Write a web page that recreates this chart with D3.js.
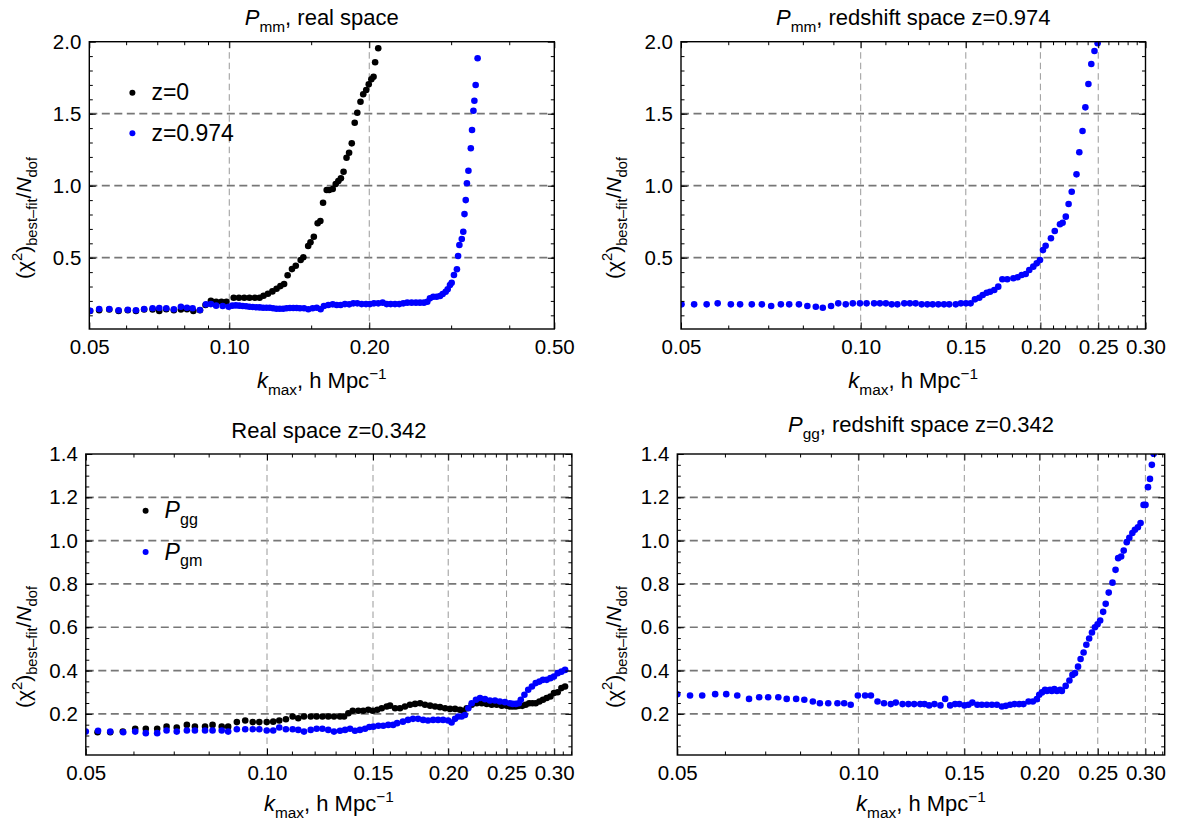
<!DOCTYPE html>
<html>
<head>
<meta charset="utf-8">
<script src="https://cdn.jsdelivr.net/npm/d3@7"></script>
<style>
  body { margin: 0; background: #fff; }
  text { font-family: "Liberation Sans", Arial, sans-serif; fill: #000; }
</style>
</head>
<body>
<svg id="chart" width="1177" height="823"></svg>
<script>
// ---- data ----
// top-left: P_mm real space, z=0 (black) and z=0.974 (blue)
const p1ZeroK = [0.0502,0.0525,0.0552,0.0578,0.0605,0.063,0.0656,0.0684,0.0707,0.0732,0.076,0.0787,0.0811,0.0837,0.0865,0.0889,
  0.0913,0.0937,0.0962,0.0986,0.1022,0.1049,0.1077,0.1105,0.1135,0.1162,0.1185,0.1211,0.1238,0.1264,0.1288,0.1312,0.1335,
  0.1364,0.139,0.1424,0.1443,0.1478,0.1495,0.152,0.1549,0.157,0.1591,0.162,0.164,0.1669,0.1694,0.1716,0.1738,0.1761,0.1787,
  0.181,0.1834,0.1861,0.1885,0.1915,0.1941,0.197,0.1995,0.2021,0.2043,0.2059,0.2091];
const p1ZeroChi = [0.13,0.135,0.14,0.13,0.135,0.13,0.14,0.14,0.13,0.142,0.135,0.14,0.142,0.13,0.135,0.172,
  0.2,0.194,0.194,0.194,0.222,0.222,0.222,0.222,0.222,0.222,0.236,0.25,0.266,0.284,0.303,0.317,0.378,
  0.421,0.444,0.484,0.503,0.581,0.607,0.646,0.739,0.755,0.882,0.97,0.97,0.977,1.012,1.032,1.051,1.097,1.194,
  1.229,1.294,1.437,1.507,1.583,1.635,1.665,1.704,1.739,1.757,1.857,1.954];
const p1HighK = [0.0502,0.0525,0.0552,0.0578,0.0605,0.063,0.0656,0.0684,0.0707,0.0732,0.076,0.0787,0.0811,0.0834,0.0865,0.0891,
  0.0913,0.0937,0.0968,0.0997,0.1015,0.1033,0.1051,0.1069,0.1087,0.1105,0.1124,0.1143,0.1162,0.1182,0.1202,0.1222,0.1242,
  0.1263,0.1284,0.1306,0.1328,0.135,0.1373,0.1396,0.1419,0.1448,0.1479,0.1511,0.1542,0.1572,0.1598,0.1633,0.1669,0.1702,
  0.1736,0.1773,0.1811,0.1848,0.1885,0.1926,0.1968,0.2007,0.2047,0.2091,0.2137,0.218,0.2224,0.2272,0.232,0.2367,0.2414,
  0.2467,0.252,0.2571,0.2622,0.2666,0.2701,0.2746,0.2792,0.2839,0.2877,0.292,0.2949,0.2983,0.3008,0.3042,0.3087,0.3105,
  0.3125,0.3162,0.3186,0.3205,0.3225,0.3244,0.3268,0.3307,0.3327,0.335,0.3366,0.3387,0.342];
const p1HighChi = [0.132,0.144,0.144,0.135,0.139,0.135,0.144,0.149,0.151,0.149,0.142,0.16,0.153,0.149,0.137,0.176,
  0.178,0.167,0.165,0.16,0.167,0.169,0.167,0.165,0.163,0.16,0.158,0.156,0.155,0.153,0.153,0.153,0.149,
  0.146,0.146,0.146,0.149,0.151,0.151,0.151,0.149,0.149,0.142,0.149,0.153,0.142,0.165,0.172,0.176,0.172,
  0.172,0.178,0.176,0.183,0.183,0.178,0.178,0.178,0.183,0.183,0.188,0.178,0.178,0.178,0.178,0.183,0.188,
  0.188,0.188,0.188,0.188,0.194,0.218,0.229,0.229,0.234,0.248,0.264,0.281,0.31,0.326,0.38,0.42,0.512,
  0.588,0.63,0.68,0.803,0.9,1.017,1.104,1.26,1.387,1.521,1.59,1.699,1.885];

// top-right: P_mm redshift space z=0.974
const p2K = [0.0501,0.0526,0.0552,0.0576,0.0606,0.0628,0.0657,0.0683,0.0708,0.0735,0.0759,0.0788,0.0814,0.0841,0.0864,
  0.0892,0.0917,0.0944,0.097,0.0997,0.1023,0.1053,0.1077,0.1102,0.1127,0.1152,0.1183,0.1209,0.1236,0.1265,0.1293,0.132,
  0.1349,0.1379,0.1407,0.1443,0.1472,0.1501,0.1528,0.1554,0.158,0.1601,0.1626,0.1647,0.1674,0.17,0.1727,0.176,0.1802,
  0.1832,0.1861,0.189,0.1916,0.1946,0.1972,0.1997,0.202,0.2041,0.2083,0.2114,0.2157,0.2179,0.2206,0.223,0.2257,0.2299,
  0.2324,0.2353,0.2379,0.2407,0.2434,0.2464,0.2494];
const p2Chi = [0.176,0.176,0.176,0.183,0.176,0.176,0.176,0.176,0.165,0.176,0.176,0.176,0.165,0.16,0.153,
  0.165,0.183,0.176,0.183,0.183,0.183,0.183,0.183,0.183,0.176,0.176,0.183,0.183,0.183,0.176,0.176,0.176,
  0.176,0.176,0.176,0.176,0.183,0.183,0.183,0.211,0.222,0.241,0.257,0.264,0.276,0.299,0.35,0.35,0.357,
  0.364,0.38,0.387,0.415,0.438,0.461,0.484,0.553,0.583,0.635,0.685,0.732,0.743,0.785,0.873,0.958,1.079,
  1.232,1.38,1.544,1.706,1.845,1.935,1.989];

// bottom-left: real space z=0.342, P_gg (black) and P_gm (blue)
const p3GgK = [0.0523,0.0549,0.0576,0.0604,0.0629,0.0657,0.0681,0.0708,0.0736,0.0759,0.0789,0.0812,0.0841,0.0862,0.0891,
  0.092,0.0947,0.0971,0.0999,0.1024,0.1048,0.1075,0.1103,0.1127,0.1152,0.1182,0.1209,0.1236,0.1264,0.1292,0.1322,0.1343,
  0.1365,0.1388,0.1418,0.1445,0.1473,0.1498,0.1525,0.1551,0.1581,0.1601,0.1632,0.1663,0.1695,0.1728,0.1762,0.1796,0.183,
  0.1866,0.1902,0.1938,0.1976,0.2014,0.2053,0.2092,0.2119,0.2147,0.2188,0.2231,0.2274,0.2318,0.2362,0.2408,0.2455,0.2502,
  0.2531,0.256,0.259,0.262,0.2655,0.269,0.2726,0.276,0.2795,0.2835,0.2874,0.2915,0.2957,0.2997,0.304,0.3084,0.3127];
const p3GgChi = [0.115,0.115,0.118,0.131,0.131,0.131,0.141,0.137,0.149,0.141,0.141,0.149,0.141,0.141,0.162,
  0.169,0.162,0.162,0.162,0.164,0.169,0.175,0.188,0.18,0.188,0.188,0.188,0.188,0.188,0.188,0.188,0.188,
  0.203,0.214,0.214,0.214,0.219,0.214,0.219,0.226,0.234,0.238,0.226,0.226,0.234,0.242,0.246,0.249,0.242,
  0.238,0.234,0.231,0.226,0.223,0.223,0.219,0.214,0.226,0.242,0.249,0.249,0.246,0.242,0.242,0.238,0.238,
  0.234,0.234,0.234,0.237,0.237,0.242,0.249,0.249,0.249,0.257,0.265,0.273,0.28,0.296,0.3,0.319,0.326];
const p3GmK = [0.05,0.0524,0.0549,0.0577,0.0604,0.0629,0.0657,0.0681,0.0708,0.0736,0.0759,0.0789,0.0812,0.0841,0.0862,
  0.0891,0.092,0.0947,0.0971,0.0999,0.1024,0.1048,0.1075,0.1103,0.1127,0.1152,0.1182,0.1209,0.1236,0.1264,0.1292,0.1322,
  0.1348,0.1374,0.14,0.1427,0.1455,0.1479,0.1502,0.1531,0.156,0.159,0.162,0.1645,0.1682,0.1715,0.1748,0.1782,0.1817,
  0.1851,0.1888,0.1924,0.1961,0.1999,0.2026,0.2053,0.2078,0.2105,0.2132,0.216,0.2188,0.2224,0.2259,0.2302,0.2346,0.2392,
  0.2437,0.2485,0.2531,0.256,0.259,0.262,0.264,0.2677,0.2716,0.2755,0.2795,0.2835,0.2874,0.2915,0.2957,0.2997,0.304,
  0.3084,0.3127];
const p3GmChi = [0.118,0.122,0.118,0.115,0.118,0.111,0.111,0.123,0.118,0.123,0.123,0.123,0.123,0.123,0.118,
  0.129,0.129,0.129,0.129,0.123,0.123,0.137,0.129,0.129,0.126,0.118,0.126,0.131,0.131,0.126,0.118,0.122,
  0.126,0.131,0.122,0.126,0.131,0.139,0.141,0.145,0.145,0.149,0.149,0.157,0.164,0.172,0.177,0.177,0.172,
  0.169,0.172,0.172,0.172,0.169,0.16,0.177,0.188,0.188,0.195,0.226,0.249,0.265,0.273,0.268,0.262,0.262,
  0.257,0.254,0.249,0.246,0.246,0.249,0.265,0.288,0.311,0.326,0.342,0.349,0.357,0.357,0.365,0.372,0.388,
  0.395,0.403];

// bottom-right: P_gg redshift space z=0.342
const p4K = [0.05,0.0525,0.055,0.0578,0.0603,0.0629,0.0658,0.0684,0.0708,0.0736,0.076,0.0788,0.0813,0.084,0.0863,0.0891,
  0.0923,0.0947,0.0971,0.0998,0.1026,0.1049,0.1076,0.1103,0.1132,0.1154,0.1184,0.1211,0.1238,0.1267,0.1288,0.1311,0.1338,
  0.1369,0.1394,0.1421,0.1448,0.1472,0.1501,0.1524,0.1547,0.1577,0.1604,0.1635,0.1667,0.1699,0.1732,0.1759,0.1788,0.1818,
  0.1851,0.1881,0.1918,0.195,0.198,0.1998,0.2019,0.2043,0.2058,0.2082,0.2097,0.2117,0.2138,0.2164,0.2179,0.2211,0.2243,
  0.2269,0.2291,0.2318,0.2341,0.2368,0.2393,0.2419,0.2445,0.2473,0.2498,0.2523,0.2552,0.2577,0.2607,0.2645,0.2676,0.2703,
  0.2734,0.2761,0.2793,0.2821,0.2854,0.2882,0.2915,0.2945,0.2979,0.3001,0.303,0.3053,0.3075,0.3096];
const p4Chi = [0.29,0.285,0.285,0.291,0.291,0.285,0.269,0.277,0.277,0.277,0.269,0.269,0.265,0.257,0.249,0.249,
  0.249,0.249,0.242,0.285,0.285,0.285,0.257,0.249,0.245,0.252,0.245,0.245,0.245,0.245,0.245,0.239,0.245,
  0.239,0.269,0.239,0.245,0.245,0.239,0.242,0.252,0.242,0.242,0.242,0.242,0.242,0.234,0.237,0.242,0.245,
  0.245,0.245,0.257,0.257,0.268,0.288,0.299,0.311,0.306,0.311,0.306,0.314,0.306,0.311,0.306,0.329,0.354,
  0.38,0.388,0.418,0.453,0.483,0.519,0.548,0.576,0.6,0.614,0.631,0.671,0.708,0.76,0.806,0.865,0.919,
  0.927,0.954,0.993,1.013,1.035,1.05,1.062,1.081,1.165,1.165,1.247,1.285,1.35,1.401];

// ---- ticks ----
const kTicksWide = [0.05, 0.10, 0.20, 0.50];
const kMinorWide = [0.06, 0.07, 0.08, 0.09, 0.15, 0.3, 0.4];
const kTicksNarrow = [0.05, 0.10, 0.15, 0.20, 0.25, 0.30];
const kMinorNarrow = [0.06, 0.07, 0.08, 0.09, 0.11, 0.12, 0.13, 0.14, 0.16, 0.17, 0.18, 0.19,
  0.21, 0.22, 0.23, 0.24, 0.26, 0.27, 0.28, 0.29, 0.31, 0.32];
const chiTicksTop = [0.5, 1.0, 1.5, 2.0];
const chiTicksBottom = [0.2, 0.4, 0.6, 0.8, 1.0, 1.2, 1.4];

const BLACK = "#000000", BLUE = "#0000ff";

const svg = d3.select("#chart");
const defs = svg.append("defs");

const panels = [
  {
    id: "p1", left: 89.3, right: 554.3, top: 41.7, bottom: 329,
    xDomain: [0.05, 0.5], yDomain: [0.005, 2.0],
    xMajor: kTicksWide, xMinor: kMinorWide,
    yMajor: chiTicksTop, yMinor: d3.range(1, 20).map(d => d / 10),
    title: [{t: "P", it: true}, {t: "mm", sub: true}, {t: ", real space"}], titleY: 25,
    xLabelY: 388, yLabelX: 31, yLabelY: 218,
    series: [{k: p1ZeroK, chi: p1ZeroChi, color: BLACK}, {k: p1HighK, chi: p1HighChi, color: BLUE}],
    legend: {x: 132.4, y: 92.7, gap: 40.6, items: [
      {parts: [{t: "z=0"}], color: BLACK}, {parts: [{t: "z=0.974"}], color: BLUE}]}
  },
  {
    id: "p2", left: 681, right: 1145.5, top: 41.7, bottom: 329,
    xDomain: [0.05, 0.3], yDomain: [0.005, 2.0],
    xMajor: kTicksNarrow, xMinor: kMinorNarrow,
    yMajor: chiTicksTop, yMinor: d3.range(1, 20).map(d => d / 10),
    title: [{t: "P", it: true}, {t: "mm", sub: true}, {t: ", redshift space z=0.974"}], titleY: 25,
    xLabelY: 388, yLabelX: 621, yLabelY: 218,
    series: [{k: p2K, chi: p2Chi, color: BLUE}]
  },
  {
    id: "p3", left: 85.8, right: 571.9, top: 454, bottom: 755,
    xDomain: [0.05, 0.321], yDomain: [0.01, 1.4],
    xMajor: kTicksNarrow, xMinor: kMinorNarrow,
    yMajor: chiTicksBottom, yMinor: d3.range(1, 28).map(d => d / 20),
    title: [{t: "Real space z=0.342"}], titleY: 438,
    xLabelY: 811, yLabelX: 31, yLabelY: 647,
    series: [{k: p3GgK, chi: p3GgChi, color: BLACK}, {k: p3GmK, chi: p3GmChi, color: BLUE}],
    legend: {x: 145.6, y: 510.7, gap: 41.3, items: [
      {parts: [{t: "P", it: true}, {t: "gg", sub: true}], color: BLACK},
      {parts: [{t: "P", it: true}, {t: "gm", sub: true}], color: BLUE}]}
  },
  {
    id: "p4", left: 677.3, right: 1164.7, top: 454, bottom: 755,
    xDomain: [0.05, 0.323], yDomain: [0.01, 1.4],
    xMajor: kTicksNarrow, xMinor: kMinorNarrow,
    yMajor: chiTicksBottom, yMinor: d3.range(1, 28).map(d => d / 20),
    title: [{t: "P", it: true}, {t: "gg", sub: true}, {t: ", redshift space z=0.342"}], titleY: 432,
    xLabelY: 811, yLabelX: 621, yLabelY: 647,
    series: [{k: p4K, chi: p4Chi, color: BLUE}]
  }
];

// text with italic / sub / sup pieces
function richText(sel, parts, size) {
  let shift = 0;
  parts.forEach(p => {
    const span = sel.append("tspan").text(p.t);
    const target = p.sub ? 0.3 * size : p.sup ? -0.42 * size : 0;
    if (p.sub || p.sup) span.attr("font-size", size * 0.7);
    if (p.it) span.attr("font-style", "italic");
    if (target !== shift) { span.attr("dy", target - shift); shift = target; }
  });
}

const xLabelParts = [{t: "k", it: true}, {t: "max", sub: true}, {t: ", h Mpc"}, {t: "\u22121", sup: true}];
const yLabelParts = [{t: "(\u03c7"}, {t: "2", sup: true}, {t: ")"}, {t: "best\u2013fit", sub: true},
  {t: "/"}, {t: "N", it: true}, {t: "dof", sub: true}];

function drawPanel(p) {
  const x = d3.scaleLog().domain(p.xDomain).range([p.left, p.right]);
  const y = d3.scaleLinear().domain(p.yDomain).range([p.bottom, p.top]);
  const g = svg.append("g");
  const inX = v => v >= p.xDomain[0] * 0.999 && v <= p.xDomain[1] * 1.001;
  const inY = v => v >= p.yDomain[0] - 1e-6 && v <= p.yDomain[1] + 1e-6;

  defs.append("clipPath").attr("id", "clip-" + p.id)
    .append("rect").attr("x", p.left).attr("y", p.top)
    .attr("width", p.right - p.left).attr("height", p.bottom - p.top);

  // grid
  g.append("g").selectAll("line")
    .data(p.yMajor.filter(v => v > p.yDomain[0] + 1e-6 && v < p.yDomain[1] - 1e-6))
    .join("line")
    .attr("x1", p.left).attr("x2", p.right)
    .attr("y1", d => y(d)).attr("y2", d => y(d))
    .attr("stroke", "#777777").attr("stroke-width", 1.7).attr("stroke-dasharray", "8,4.5");
  g.append("g").selectAll("line")
    .data(p.xMajor.filter(v => v > p.xDomain[0] * 1.001 && v < p.xDomain[1] * 0.999))
    .join("line")
    .attr("x1", d => x(d)).attr("x2", d => x(d))
    .attr("y1", p.top).attr("y2", p.bottom)
    .attr("stroke", "#999999").attr("stroke-width", 1).attr("stroke-dasharray", "6.5,4");

  // points
  p.series.forEach(s => {
    g.append("g").attr("clip-path", "url(#clip-" + p.id + ")")
      .selectAll("circle")
      .data(d3.zip(s.k, s.chi))
      .join("circle")
      .attr("cx", d => x(d[0])).attr("cy", d => y(d[1]))
      .attr("r", 3.3).attr("fill", s.color);
  });

  // frame
  g.append("rect").attr("x", p.left).attr("y", p.top)
    .attr("width", p.right - p.left).attr("height", p.bottom - p.top)
    .attr("fill", "none").attr("stroke", "#000").attr("stroke-width", 1.4);

  const styleAxis = a => {
    a.select(".domain").remove();
    a.selectAll("line").attr("stroke", "#000").attr("stroke-width", 1);
    a.attr("font-family", null).attr("font-size", 20.5);
  };
  const fmtX = d3.format(".2f"), fmtY = d3.format(".1f");
  const xMajor = p.xMajor.filter(inX), xMinor = p.xMinor.filter(inX);
  const yMajor = p.yMajor.filter(inY), yMinor = p.yMinor.filter(inY);

  g.append("g").attr("transform", `translate(0,${p.bottom})`)
    .call(d3.axisBottom(x).tickValues(xMajor).tickSize(-6.5).tickPadding(10).tickFormat(fmtX)).call(styleAxis);
  g.append("g").attr("transform", `translate(0,${p.bottom})`)
    .call(d3.axisBottom(x).tickValues(xMinor).tickSize(-3.5).tickFormat("")).call(styleAxis);
  g.append("g").attr("transform", `translate(0,${p.top})`)
    .call(d3.axisTop(x).tickValues(xMajor).tickSize(-6.5).tickFormat("")).call(styleAxis);
  g.append("g").attr("transform", `translate(0,${p.top})`)
    .call(d3.axisTop(x).tickValues(xMinor).tickSize(-3.5).tickFormat("")).call(styleAxis);
  g.append("g").attr("transform", `translate(${p.left},0)`)
    .call(d3.axisLeft(y).tickValues(yMajor).tickSize(-6.5).tickPadding(8).tickFormat(fmtY)).call(styleAxis);
  g.append("g").attr("transform", `translate(${p.left},0)`)
    .call(d3.axisLeft(y).tickValues(yMinor).tickSize(-3.5).tickFormat("")).call(styleAxis);
  g.append("g").attr("transform", `translate(${p.right},0)`)
    .call(d3.axisRight(y).tickValues(yMajor).tickSize(-6.5).tickFormat("")).call(styleAxis);
  g.append("g").attr("transform", `translate(${p.right},0)`)
    .call(d3.axisRight(y).tickValues(yMinor).tickSize(-3.5).tickFormat("")).call(styleAxis);

  // title and axis labels
  const cx = (p.left + p.right) / 2;
  g.append("text").attr("x", cx).attr("y", p.titleY).attr("text-anchor", "middle")
    .attr("font-size", 22).call(t => richText(t, p.title, 22));
  g.append("text").attr("x", cx).attr("y", p.xLabelY).attr("text-anchor", "middle")
    .attr("font-size", 22).call(t => richText(t, xLabelParts, 22));
  g.append("text").attr("text-anchor", "middle").attr("font-size", 21)
    .attr("transform", `translate(${p.yLabelX},${p.yLabelY}) rotate(-90)`)
    .call(t => richText(t, yLabelParts, 21));

  // legend
  if (p.legend) {
    const lg = g.append("g");
    p.legend.items.forEach((it, i) => {
      const cy = p.legend.y + i * p.legend.gap;
      lg.append("circle").attr("cx", p.legend.x).attr("cy", cy).attr("r", 3).attr("fill", it.color);
      lg.append("text").attr("x", p.legend.x + 19).attr("y", cy + 7.5)
        .attr("font-size", 23).call(t => richText(t, it.parts, 23));
    });
  }
}

panels.forEach(drawPanel);
</script>
</body>
</html>
